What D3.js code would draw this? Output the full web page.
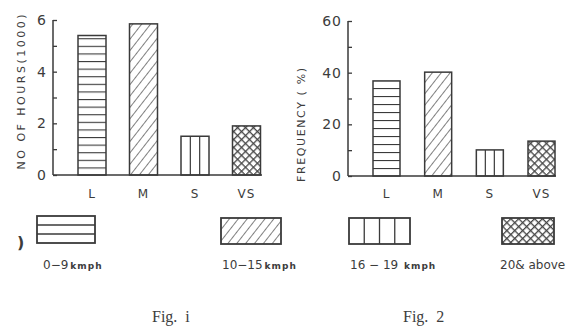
<!DOCTYPE html>
<html><head><meta charset="utf-8">
<script src="https://cdn.jsdelivr.net/npm/d3@7"></script>
<style>
html,body{margin:0;padding:0;background:#fff;}
svg{display:block;}
text{font-family:"DejaVu Sans",sans-serif;fill:#3c3c3c;}
</style></head>
<body>
<script>
// ---- data ----
const categories = ["L", "M", "S", "VS"];
const hoursThousands = [5.4, 5.85, 1.5, 1.9];
const frequencyPct = [36.8, 40.2, 10.1, 13.5];
const hoursTicks = [0, 1, 2, 3, 4, 5, 6];
const hoursTickLabels = [0, 2, 4, 6];
const freqTicks = [0, 10, 20, 30, 40, 50, 60];
const freqTickLabels = [0, 20, 40, 60];
const legendLabels = [["0\u22129", "kmph"], ["10\u221215", "kmph"], ["16 \u2212 19 ", "kmph"], ["20& above", ""]];
const figLabels = ["Fig.  i", "Fig.  2"];

const W = 574, H = 328, INK = "#3a3a3a";
const svg = d3.select("body").append("svg").attr("width", W).attr("height", H);
const defs = svg.append("defs");

// patterns
function hPattern(id, step, y0) {
  const p = defs.append("pattern").attr("id", id).attr("patternUnits", "userSpaceOnUse")
    .attr("width", 10).attr("height", step).attr("y", y0);
  p.append("rect").attr("width", 10).attr("height", step).attr("fill", "#fff");
  p.append("line").attr("x1", 0).attr("x2", 10).attr("y1", 0).attr("y2", 0)
    .attr("stroke", INK).attr("stroke-width", 2.2);
}
hPattern("hz1", 7.6, 175);
hPattern("hz2", 8, 176);
{
  const p = defs.append("pattern").attr("id", "dg").attr("patternUnits", "userSpaceOnUse")
    .attr("width", 7).attr("height", 10).attr("patternTransform", "rotate(38)");
  p.append("rect").attr("width", 7).attr("height", 10).attr("fill", "#fff");
  p.append("line").attr("x1", 0).attr("x2", 0).attr("y1", 0).attr("y2", 10)
    .attr("stroke", INK).attr("stroke-width", 1.3);
}
{
  const s = 5.6;
  const p = defs.append("pattern").attr("id", "xh").attr("patternUnits", "userSpaceOnUse")
    .attr("width", s).attr("height", s).attr("patternTransform", "rotate(45)");
  p.append("rect").attr("width", s).attr("height", s).attr("fill", "#fff");
  p.append("line").attr("x1", 0).attr("x2", s).attr("y1", 0).attr("y2", 0).attr("stroke", "#454545").attr("stroke-width", 2.6);
  p.append("line").attr("x1", 0).attr("x2", 0).attr("y1", 0).attr("y2", s).attr("stroke", "#454545").attr("stroke-width", 2.6);
}

function panel(cfg) {
  const g = svg.append("g");
  const y = d3.scaleLinear().domain(cfg.domain).range([cfg.y0, cfg.y1]);
  const x = d3.scalePoint().domain(categories).range(cfg.xr);
  const bw = cfg.bw;

  cfg.values.forEach((v, i) => {
    const c = categories[i];
    const bx = x(c) - bw / 2, by = y(v), bh = y(0) - y(v);
    let fill = "#fff";
    if (i === 0) fill = `url(#${cfg.hz})`;
    if (i === 1) fill = "url(#dg)";
    if (i === 3) fill = "url(#xh)";
    g.append("rect").attr("x", bx).attr("y", by).attr("width", bw).attr("height", bh)
      .attr("fill", fill).attr("stroke", INK).attr("stroke-width", 1.5);
    if (i === 2) {
      [1, 2].forEach(k => g.append("line").attr("x1", bx + bw * k / 3).attr("x2", bx + bw * k / 3)
        .attr("y1", by).attr("y2", y(0)).attr("stroke", INK).attr("stroke-width", 1.2));
    }
    g.append("text").attr("x", x(c)).attr("y", 198).attr("text-anchor", "middle")
      .attr("font-size", 12).attr("letter-spacing", 1).text(c);
  });

  const ax = g.append("g").attr("transform", `translate(${cfg.ax},0)`)
    .call(d3.axisRight(y).tickValues(cfg.ticks).tickSize(4).tickFormat(""));
  ax.select(".domain").remove();
  ax.selectAll("line").attr("stroke", INK).attr("stroke-width", 1.3);
  g.append("line").attr("x1", cfg.ax).attr("x2", cfg.ax).attr("y1", y(cfg.domain[1])).attr("y2", y(0))
    .attr("stroke", INK).attr("stroke-width", 1.5);
  g.append("line").attr("x1", cfg.ax).attr("x2", cfg.baseEnd).attr("y1", y(0)).attr("y2", y(0))
    .attr("stroke", INK).attr("stroke-width", 1.7);
  cfg.labels.forEach(t => g.append("text").attr("x", cfg.ax - 6).attr("y", y(t) + 5)
    .attr("text-anchor", "end").attr("font-size", 14).attr("letter-spacing", 1).text(t));

  g.append("text").attr("transform", `translate(${cfg.tx},${cfg.ty}) rotate(-90)`)
    .attr("text-anchor", "middle").attr("font-size", 11)
    .attr("textLength", cfg.tl).attr("lengthAdjust", "spacing").text(cfg.title);
}

panel({ domain: [0, 6], y0: 175, y1: 20, xr: [92, 246.5], bw: 28, values: hoursThousands,
  hz: "hz1", ax: 53, baseEnd: 262, ticks: hoursTicks, labels: hoursTickLabels,
  title: "NO OF HOURS(1000)", tx: 25, ty: 92, tl: 155 });
panel({ domain: [0, 60], y0: 176, y1: 21, xr: [386.5, 541.5], bw: 27, values: frequencyPct,
  hz: "hz2", ax: 348, baseEnd: 556, ticks: freqTicks, labels: freqTickLabels,
  title: "FREQUENCY ( %)", tx: 305, ty: 125, tl: 114 });

// legend
const lg = svg.append("g");
const boxes = [[37, 216, 58, 27], [221, 218, 60, 26], [349, 218, 61, 26], [502, 218, 52, 26]];
boxes.forEach((b, i) => {
  const [bx, by, bw, bh] = b;
  let fill = "#fff";
  if (i === 1) fill = "url(#dg)";
  if (i === 3) fill = "url(#xh)";
  lg.append("rect").attr("x", bx).attr("y", by).attr("width", bw).attr("height", bh)
    .attr("fill", fill).attr("stroke", INK).attr("stroke-width", 1.8);
  if (i === 0) [1, 2].forEach(k => lg.append("line").attr("x1", bx).attr("x2", bx + bw)
    .attr("y1", by + bh * k / 3).attr("y2", by + bh * k / 3).attr("stroke", INK).attr("stroke-width", 1.6));
  if (i === 2) [1, 2, 3].forEach(k => lg.append("line").attr("y1", by).attr("y2", by + bh)
    .attr("x1", bx + bw * k / 4).attr("x2", bx + bw * k / 4).attr("stroke", INK).attr("stroke-width", 1.3));
});
const lx = [43, 222, 350, 500];
legendLabels.forEach((l, i) => {
  const t = lg.append("text").attr("x", lx[i]).attr("y", 269).attr("font-size", 12);
  t.append("tspan").text(l[0]);
  if (l[1]) t.append("tspan").attr("font-size", 9).attr("font-weight", "bold")
    .attr("letter-spacing", 1).attr("dx", 2).text(l[1]);
});
svg.append("text").attr("x", 17).attr("y", 248).attr("font-size", 16).attr("font-weight", "bold")
  .attr("fill", "#222").text(")");

// figure captions
[[152, 322], [403, 322]].forEach((p, i) => svg.append("text").attr("x", p[0]).attr("y", p[1])
  .style("font-family", "'Liberation Serif','DejaVu Serif',serif").style("white-space", "pre")
  .attr("font-size", 16).attr("fill", "#555").text(figLabels[i]));
</script>
</body></html>
